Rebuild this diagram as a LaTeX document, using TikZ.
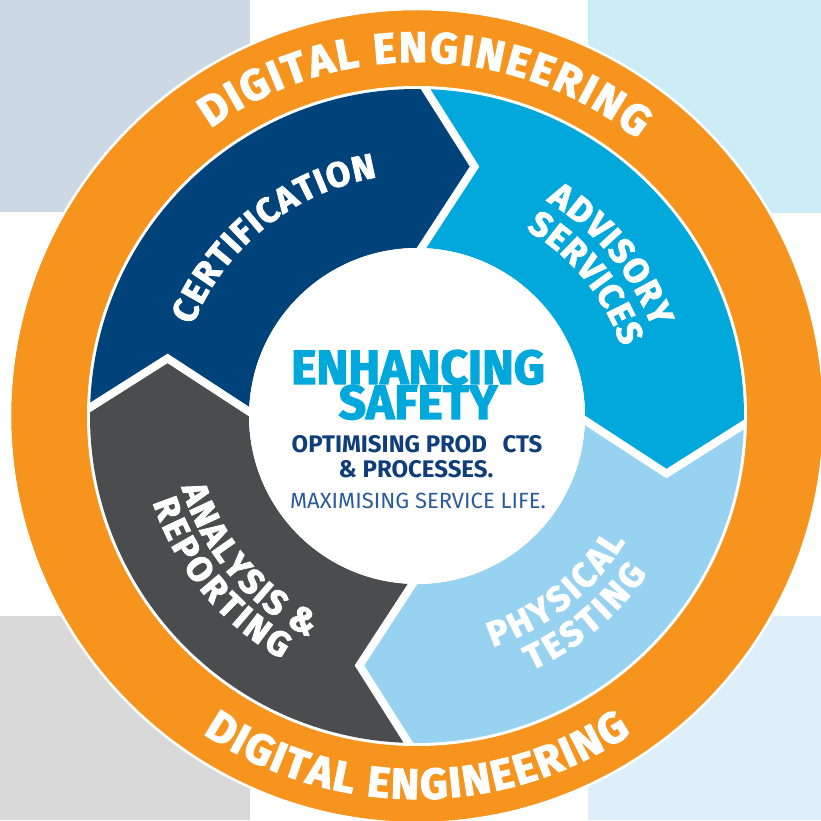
\documentclass[tikz,border=0pt]{standalone}
\usepackage{fontspec}
\setmainfont{Fira Sans}
\newfontfamily\hv{Fira Sans}[BoldFeatures={FakeBold=2.5}]
\usetikzlibrary{decorations.text}
\definecolor{orng}{HTML}{F7941E}
\definecolor{navy}{HTML}{00427A}
\definecolor{cyanb}{HTML}{00A8DC}
\definecolor{lblue}{HTML}{97D3F0}
\definecolor{dgrey}{HTML}{4B4C4E}
\definecolor{cTL}{HTML}{CCD9E5}
\definecolor{cTR}{HTML}{CCEDF6}
\definecolor{cBL}{HTML}{D9D9D9}
\definecolor{cBR}{HTML}{DEEFFA}
\definecolor{txtnavy}{HTML}{0F3E7A}
\definecolor{txtlight}{HTML}{2A5B9A}
\newcommand\ringfont{\hv\bfseries\fontsize{43}{43}\selectfont}
\newcommand\segfont{\hv\bfseries\fontsize{35}{35}\selectfont}
\tikzset{
  arctext/.style={decorate, decoration={text along path, text color=white, text align=fit to path, text={#1}}},
  sepline/.style={white, line width=8pt, line join=miter, miter limit=20, line cap=rect},
  centertext/.style={anchor=base, inner sep=0pt}
}
\begin{document}
\begin{tikzpicture}[x=1pt,y=1pt]
\useasboundingbox (0,0) rectangle (821,820);
\fill[white] (0,0) rectangle (821,820);
\fill[cTL] (0,608) rectangle (250,820);
\fill[cTR] (588,607) rectangle (821,820);
\fill[cBL] (0,0) rectangle (250,204);
\fill[cBR] (588,0) rectangle (821,204);
\coordinate (O) at (417,404);
\begin{scope}[shift={(O)}]
  \fill[orng] (0,0) circle (406);
  \draw[white, line width=2.5pt] (0,0) circle (407);
  \fill[white] (0,0) circle (330);
  % segments
  \fill[navy] (88.5:327) arc[start angle=88.5,end angle=178.5,radius=327] -- (167:256) -- (178.5:168) arc[start angle=178.5,end angle=88.5,radius=168] -- (77:256) -- cycle;
  \fill[dgrey] (178.5:327) arc[start angle=178.5,end angle=268.5,radius=327] -- (257:256) -- (268.5:168) arc[start angle=268.5,end angle=178.5,radius=168] -- (167:256) -- cycle;
  \fill[lblue] (268.5:327) arc[start angle=268.5,end angle=358.5,radius=327] -- (347:256) -- (358.5:168) arc[start angle=358.5,end angle=268.5,radius=168] -- (257:256) -- cycle;
  \fill[cyanb] (-1.5:327) arc[start angle=-1.5,end angle=88.5,radius=327] -- (77:256) -- (88.5:168) arc[start angle=88.5,end angle=-1.5,radius=168] -- (-13:256) -- cycle;
  \begin{scope}
    \clip (0,0) circle (328);
    \foreach \b in {88.5,178.5,268.5,358.5}
      \draw[sepline] (\b:327) -- (\b-11.5:256) -- (\b:168);
  \end{scope}
  \fill[white] (0,0) circle (168);
  % ring texts
  \path[arctext={|\ringfont|DIGITAL ENGINEERING}] (125.7:354) arc[start angle=125.7,end angle=51.5,radius=354];
  \path[arctext={|\ringfont|DIGITAL ENGINEERING}] (236:383) arc[start angle=236,end angle=304,radius=383];
  % segment texts
  \path[arctext={|\segfont|CERTIFICATION}] (158:242) arc[start angle=158,end angle=99.5,radius=242];
  \path[arctext={|\segfont|ADVISORY}] (59:251) arc[start angle=59,end angle=20.6,radius=251];
  \path[arctext={|\segfont|SERVICES}] (59.7:216) arc[start angle=59.7,end angle=18.7,radius=216];
  \path[arctext={|\segfont|PHYSICAL}] (-71.9:243) arc[start angle=-71.9,end angle=-31.1,radius=243];
  \path[arctext={|\segfont|TESTING}] (-65.8:279) arc[start angle=-65.8,end angle=-34.4,radius=279];
  \path[arctext={|\segfont|ANALYSIS {\&}}] (196.9:246) arc[start angle=196.9,end angle=244,radius=246];
  \path[arctext={|\segfont|REPORTING}] (198.1:278) arc[start angle=198.1,end angle=240.9,radius=278];
\end{scope}
% centre texts
\node[centertext, text=cyanb, font=\hv\bfseries\fontsize{48}{48}\selectfont] (t1) at (418,436) {ENHANCING};
\node[centertext, text=cyanb, font=\hv\bfseries\fontsize{48}{48}\selectfont] (t2) at (418,401) {SAFETY};
\node[centertext, text=txtnavy, font=\bfseries\fontsize{24}{24}\selectfont] (t3) at (417,367) {OPTIMISING PROD\phantom{U}CTS};
\node[centertext, text=txtnavy, font=\bfseries\fontsize{24}{24}\selectfont] (t4) at (416,343) {\& PROCESSES.};
\node[centertext, text=txtlight, font=\fontsize{22}{22}\selectfont] (t5) at (418,312) {MAXIMISING SERVICE LIFE.};
\end{tikzpicture}
\end{document}
